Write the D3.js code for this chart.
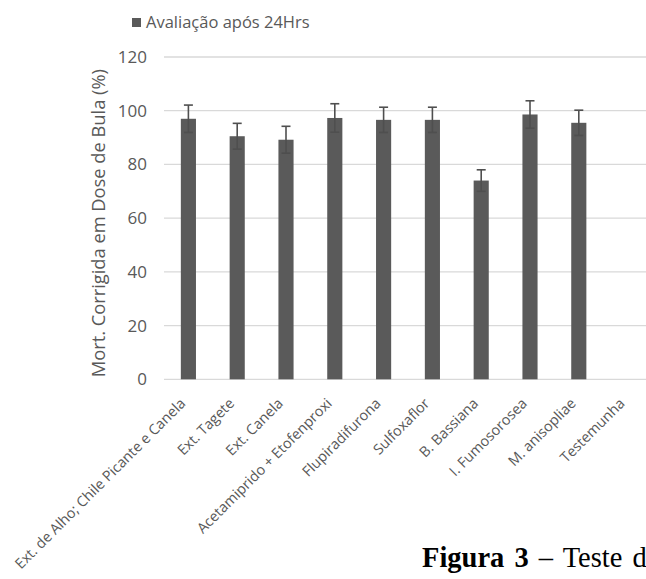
<!DOCTYPE html>
<html>
<head>
<meta charset="utf-8">
<script src="https://cdn.jsdelivr.net/npm/d3@7"></script>
<style>
  body { margin: 0; background: #fff; }
  text { font-family: "Open Sans", sans-serif; fill: #595959; }
</style>
</head>
<body>
<script>
const categories = [
  "Ext. de Alho; Chile Picante e Canela",
  "Ext. Tagete",
  "Ext. Canela",
  "Acetamiprido + Etofenproxi",
  "Flupiradifurona",
  "Sulfoxaflor",
  "B. Bassiana",
  "I. Fumosorosea",
  "M. anisopliae",
  "Testemunha"
];
const values = [97, 90.5, 89.2, 97.3, 96.6, 96.6, 74, 98.6, 95.5, 0];
const errors = [5.1, 4.8, 5, 5.3, 4.7, 4.7, 4, 5.1, 4.7, 0];
const yTicks = [0, 20, 40, 60, 80, 100, 120];
const seriesName = "Avaliação após 24Hrs";

const width = 646, height = 579;
const margin = { top: 57, left: 164, bottom: 200, right: -6 };

const svg = d3.select("body").append("svg")
  .attr("width", width).attr("height", height);

const x = d3.scaleBand()
  .domain(categories)
  .range([margin.left, width - margin.right])
  .paddingInner(0.69)
  .paddingOuter(0.345);

const y = d3.scaleLinear()
  .domain([0, 120])
  .range([height - margin.bottom + 0.3, margin.top]);

// gridlines
svg.append("g")
  .selectAll("line")
  .data(yTicks)
  .enter()
  .append("line")
  .attr("x1", margin.left)
  .attr("x2", width - margin.right)
  .attr("y1", (d) => y(d))
  .attr("y2", (d) => y(d))
  .attr("stroke", "#d9d9d9")
  .attr("stroke-width", 1.3);

// y tick labels
svg.append("g")
  .selectAll("text")
  .data(yTicks)
  .enter()
  .append("text")
  .attr("x", 147)
  .attr("y", (d) => y(d) + 6)
  .attr("text-anchor", "end")
  .style("font-size", "17px")
  .text((d) => d);

// bars
svg.append("g")
  .selectAll("rect")
  .data(values)
  .enter()
  .append("rect")
  .attr("x", (d, i) => x(categories[i]))
  .attr("y", (d) => y(d))
  .attr("width", x.bandwidth())
  .attr("height", (d) => y(0) - y(d))
  .attr("fill", "#5a5a5a");

// error bars
const err = svg.append("g")
  .attr("stroke", "#4f4f4f")
  .attr("stroke-width", 1.6);

values.forEach((v, i) => {
  if (!errors[i]) return;
  const cx = x(categories[i]) + x.bandwidth() / 2;
  const top = y(v + errors[i]);
  const bot = y(v - errors[i]);
  err.append("line").attr("x1", cx).attr("x2", cx).attr("y1", top).attr("y2", bot);
  err.append("line").attr("x1", cx - 4.5).attr("x2", cx + 4.5).attr("y1", top).attr("y2", top);
  err.append("line").attr("x1", cx - 4.5).attr("x2", cx + 4.5).attr("y1", bot).attr("y2", bot);
});

// x labels
svg.append("g")
  .selectAll("text")
  .data(categories)
  .enter()
  .append("text")
  .attr("text-anchor", "end")
  .attr("transform", (d) =>
    `translate(${x(d) + x.bandwidth() / 2 - 2},${y(0) + 25}) rotate(-45)`)
  .style("font-size", "14.4px")
  .text((d) => d);

// y title
svg.append("text")
  .attr("transform", `translate(105,${(y(0) + y(120)) / 2 + 5}) rotate(-90)`)
  .attr("text-anchor", "middle")
  .style("font-size", "18.3px")
  .text("Mort. Corrigida em Dose de Bula (%)");

// legend
svg.append("rect")
  .attr("x", 132).attr("y", 18)
  .attr("width", 9).attr("height", 9)
  .attr("fill", "#5a5a5a");
svg.append("text")
  .attr("x", 146).attr("y", 28)
  .style("font-size", "16.5px")
  .text(seriesName);

// caption fragment
const cap = svg.append("text")
  .attr("x", 422).attr("y", 567)
  .style("font-family", "'Liberation Serif', 'Times New Roman', serif")
  .style("font-size", "28.5px")
  .style("word-spacing", "3px")
  .style("fill", "#000");
cap.append("tspan").style("font-weight", "bold").style("fill", "#000").text("Figura 3");
cap.append("tspan").style("fill", "#000").text(" – Teste de");
</script>
</body>
</html>
